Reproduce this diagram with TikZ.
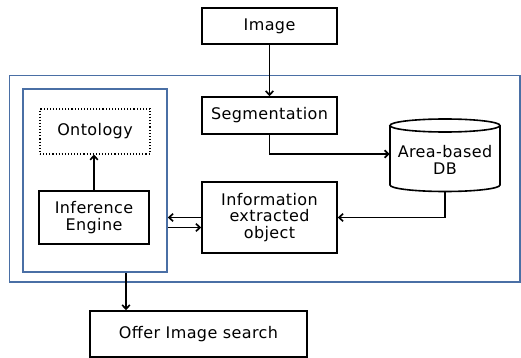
\documentclass[tikz,border=0pt]{standalone}
\usepackage{fontspec}
\setmainfont{DejaVu Sans}[LetterSpace=2.5]
\usetikzlibrary{arrows.meta}
\definecolor{frameblue}{RGB}{74,111,165}
\tikzset{
  txt/.style={font=\fontsize{16}{16.4}\selectfont},
  box/.style={draw=black, line width=1.6pt, rectangle, inner sep=0pt, align=center, txt},
  dotbox/.style={box, line width=1.1pt, dotted},
  bluebox/.style={draw=frameblue, line width=1.6pt},
  conn/.style={line width=1.7pt, -{Straight Barb[length=4pt,width=7.5pt]}},
}
\begin{document}
\begin{tikzpicture}[x=1pt,y=-1pt]
\useasboundingbox (0,0) rectangle (521,358);
% blue frames
\draw[bluebox] (9.5,75.5) rectangle (520,282);
\node[bluebox, rectangle, inner sep=0pt, minimum width=144pt, minimum height=183pt] (inner) at (95,180.5) {};
% boxes
\node[box, minimum width=135pt, minimum height=36pt] (img) at (269.5,26) {Image};
\node[box, minimum width=135pt, minimum height=37pt] (seg) at (269.5,115.5) {Segmentation};
\node[dotbox, minimum width=110pt, minimum height=45pt] (onto) at (95,131.5) {Ontology};
\node[box, minimum width=110pt, minimum height=53pt] (inf) at (94,217.5) {Inference\\Engine};
\node[box, minimum width=135pt, minimum height=71pt] (info) at (269.5,217.5) {Information\\extracted\\object};
\node[box, minimum width=217pt, minimum height=46pt] (offer) at (198.5,334) {Offer Image search};
% cylinder
\node[inner sep=0pt, minimum width=110pt, minimum height=73pt] (db) at (445,155) {};
\draw[line width=1.6pt] (390,125.5) -- (390,185)
  arc[start angle=180, end angle=360, x radius=55pt, y radius=6.5pt]
  -- (500,125.5)
  arc[start angle=0, end angle=360, x radius=55pt, y radius=6.5pt];
\node[align=center, txt] at (445,160) {Area-based\\DB};
% connectors
\draw[conn] (img.south) -- (seg.north);
\draw[conn] (seg.south) |- (db.west |- 0,154);
\draw[conn] (db.south) |- (info.east);
\draw[conn] (info.west) -- (info.west -| inner.east);
\draw[conn] ([yshift=-10pt]inner.east |- info.west) -- ([yshift=-10pt]info.west);
\draw[conn] (inf.north) -- (inf.north |- onto.south);
\draw[conn] (inner.south -| 126,0) -- (offer.north -| 126,0);
\end{tikzpicture}
\end{document}
